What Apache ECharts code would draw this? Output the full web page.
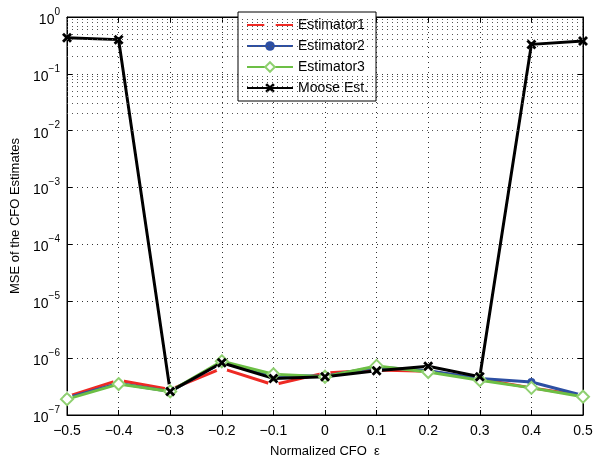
<!DOCTYPE html>
<html style="height: 100%">
<head>
  <meta charset="utf-8">
</head>
<body style="height: 100%; margin: 0; background: #fff">
  <div id="container" style="width: 602px; height: 463px"></div>
  <script type="text/javascript" src="https://fastly.jsdelivr.net/npm/echarts@6.0.0/dist/echarts.min.js"></script>
  <script type="text/javascript">
    // normalized CFO values (x)
    const cfo = [-0.5, -0.4, -0.3, -0.2, -0.1, 0, 0.1, 0.2, 0.3, 0.4, 0.5];
    // MSE values
    const est1 = [2.1e-7, 4.1e-7, 2.8e-7, 6.6e-7, 3.4e-7, 5.5e-7, 6.2e-7, 5.9e-7, 4.3e-7, 3.0e-7, 2.2e-7];
    const est2 = [2.0e-7, 3.6e-7, 2.6e-7, 8.3e-7, 5.0e-7, 4.8e-7, 7.0e-7, 6.0e-7, 4.4e-7, 3.8e-7, 2.2e-7];
    const est3 = [1.9e-7, 3.5e-7, 2.6e-7, 8.8e-7, 5.2e-7, 4.7e-7, 7.3e-7, 5.7e-7, 4.1e-7, 3.0e-7, 2.1e-7];
    const moose = [0.43, 0.40, 2.6e-7, 8.3e-7, 4.4e-7, 4.7e-7, 6.0e-7, 7.2e-7, 4.7e-7, 0.33, 0.38];
    const decades = [-7, -6, -5, -4, -3, -2, -1, 0];

    const font = '"Liberation Sans", Arial, sans-serif';
    const xMark = 'path://M0,2L2,0L5,3L8,0L10,2L7,5L10,8L8,10L5,7L2,10L0,8L3,5Z';

    function pairs(ys) {
      return cfo.map(function (x, i) { return [x, ys[i]]; });
    }

    // minor grid positions 2..9 x 10^n
    const minorLines = [];
    decades.slice(0, -1).forEach(function (e) {
      for (let k = 2; k <= 9; k++) {
        minorLines.push({ yAxis: k * Math.pow(10, e) });
      }
    });

    const dom = document.getElementById('container');
    const myChart = echarts.init(dom, null, { renderer: 'canvas' });

    const gridDots = { show: true, lineStyle: { color: '#333', type: [1, 4], width: 1 } };

    const option = {
      animation: false,
      backgroundColor: '#fff',
      textStyle: { fontFamily: font },
      grid: {
        left: 67, right: 19, top: 17, bottom: 41,
        show: true, borderColor: '#000', borderWidth: 1, backgroundColor: 'transparent'
      },
      legend: {
        orient: 'vertical',
        left: 238,
        top: 12,
        backgroundColor: '#fff',
        borderColor: '#000',
        borderWidth: 1,
        padding: [6, 8, 6, 8],
        itemGap: 7,
        itemWidth: 46,
        itemHeight: 12,
        textStyle: { fontSize: 14, color: '#000', fontFamily: font },
        data: ['Estimator1', 'Estimator2', 'Estimator3', 'Moose Est.']
      },
      xAxis: [{
        type: 'value',
        min: -0.5,
        max: 0.5,
        interval: 0.1,
        name: 'Normalized CFO  ε',
        nameLocation: 'middle',
        nameGap: 30,
        nameTextStyle: { fontSize: 13, color: '#000' },
        axisLine: { onZero: false, lineStyle: { color: '#000' } },
        axisTick: { inside: true, length: 5, lineStyle: { color: '#000' } },
        axisLabel: {
          fontSize: 14, color: '#000', margin: 9,
          formatter: function (v) {
            const r = Math.round(v * 10) / 10;
            return r === 0 ? '0' : r.toFixed(1).replace('-', '−');
          }
        },
        splitLine: gridDots
      }, {
        type: 'value',
        position: 'top',
        min: -0.5,
        max: 0.5,
        interval: 0.1,
        axisLine: { onZero: false, lineStyle: { color: '#000' } },
        axisTick: { inside: true, length: 5, lineStyle: { color: '#000' } },
        axisLabel: { show: false },
        splitLine: { show: false }
      }],
      yAxis: [{
        type: 'log',
        logBase: 10,
        min: 1e-7,
        max: 1,
        name: 'MSE of the CFO Estimates',
        nameLocation: 'middle',
        nameGap: 45,
        nameTextStyle: { fontSize: 13, color: '#000' },
        axisLine: { onZero: false, lineStyle: { color: '#000' } },
        axisTick: { inside: true, length: 5, lineStyle: { color: '#000' } },
        axisLabel: {
          color: '#000', margin: 7,
          formatter: function (v) {
            const e = Math.round(Math.log10(v));
            return '{b|10}{s|' + (e === 0 ? '0' : String(e).replace('-', '−')) + '}';
          },
          rich: {
            b: { fontSize: 14, color: '#000', fontFamily: font, padding: [6, 0, 0, 0] },
            s: { fontSize: 10, color: '#000', fontFamily: font, verticalAlign: 'top', padding: [0, 0, 6, 0] }
          }
        },
        splitLine: gridDots
      }, {
        type: 'log',
        logBase: 10,
        min: 1e-7,
        max: 1,
        position: 'right',
        axisLine: { onZero: false, lineStyle: { color: '#000' } },
        axisTick: { inside: true, length: 5, lineStyle: { color: '#000' } },
        axisLabel: { show: false },
        splitLine: { show: false }
      }],
      series: [{
        name: 'grid',
        type: 'line',
        data: [],
        silent: true,
        markLine: {
          silent: true,
          symbol: 'none',
          label: { show: false },
          lineStyle: { color: '#555', type: [1, 4], width: 1 },
          data: minorLines
        }
      }, {
        name: 'Estimator1',
        type: 'line',
        data: pairs(est1),
        symbol: 'emptyCircle',
        symbolSize: 9,
        color: '#ee2a24',
        lineStyle: { width: 3, color: '#ee2a24' },
        itemStyle: { color: '#fff', borderColor: '#ee2a24', borderWidth: 2.5 }
      }, {
        name: 'Estimator2',
        type: 'line',
        data: pairs(est2),
        symbol: 'circle',
        symbolSize: 8,
        color: '#2d4fa3',
        lineStyle: { width: 3, color: '#2d4fa3' },
        itemStyle: { color: '#2d4fa3' }
      }, {
        name: 'Estimator3',
        type: 'line',
        data: pairs(est3),
        symbol: 'emptyDiamond',
        symbolSize: 12,
        color: '#6cbf45',
        lineStyle: { width: 3, color: '#6cbf45' },
        itemStyle: { color: '#8fd070', borderColor: '#6cbf45', borderWidth: 2.5 }
      }, {
        name: 'Moose Est.',
        type: 'line',
        data: pairs(moose),
        symbol: xMark,
        symbolSize: 10,
        color: '#000',
        lineStyle: { width: 3, color: '#000' },
        itemStyle: { color: '#000' }
      }]
    };

    myChart.setOption(option);
    window.addEventListener('resize', myChart.resize);
  </script>
</body>
</html>
